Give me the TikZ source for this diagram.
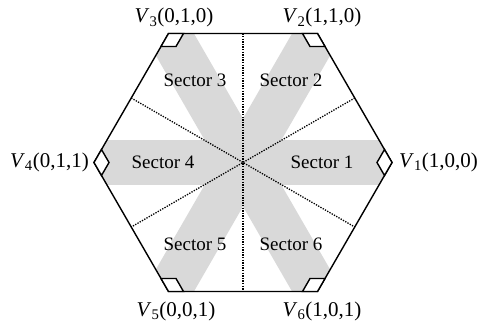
\documentclass[tikz,border=0pt]{standalone}
\usepackage{fontspec}
\setmainfont{Liberation Serif}
\usetikzlibrary{calc}
\begin{document}
\begin{tikzpicture}[x=1pt,y=-1pt,
  hexedge/.style={line width=1.4pt,line join=miter},
  divline/.style={line width=1.3pt,dash pattern=on 1.3pt off 1.3pt},
  band/.style={fill=black!15},
  anglemark/.style={line width=1.4pt,fill=white,line join=miter},
  vlabel/.style={font=\fontsize{21}{24}\selectfont,inner sep=0pt},
  seclabel/.style={font=\fontsize{19}{22}\selectfont,inner sep=0pt}]
\useasboundingbox (0,0) rectangle (479,326);
\coordinate (C) at (243,162.5);
\coordinate (V1) at (392,162.5);
\coordinate (V2) at (317.5,33.5);
\coordinate (V3) at (168.5,33.5);
\coordinate (V4) at (94,162.5);
\coordinate (V5) at (168.5,291.5);
\coordinate (V6) at (317.5,291.5);
% gray bands
\begin{scope}
  \clip (V1) -- (V2) -- (V3) -- (V4) -- (V5) -- (V6) -- cycle;
  \fill[band] (0,140.5) rectangle (479,184.5);
  \fill[band, rotate around={60:(C)}] (0,140.5) rectangle (479,184.5);
  \fill[band, rotate around={-60:(C)}] (0,140.5) rectangle (479,184.5);
\end{scope}
% sector dividers (to edge midpoints)
\coordinate (M12) at ($(V1)!0.5!(V2)$);
\coordinate (M23) at ($(V2)!0.5!(V3)$);
\coordinate (M34) at ($(V3)!0.5!(V4)$);
\coordinate (M45) at ($(V4)!0.5!(V5)$);
\coordinate (M56) at ($(V5)!0.5!(V6)$);
\coordinate (M61) at ($(V6)!0.5!(V1)$);
\draw[divline] (M12) -- (M45);
\draw[divline] (M23) -- (M56);
\draw[divline] (M34) -- (M61);
% hexagon
\draw[hexedge] (V1) -- (V2) -- (V3) -- (V4) -- (V5) -- (V6) -- cycle;
% angle marks
\foreach \i/\p/\n in {1/6/2,2/1/3,3/2/4,4/3/5,5/4/6,6/5/1}{
  \coordinate (A\i) at ($(V\i)!15pt!(V\p)$);
  \coordinate (B\i) at ($(V\i)!15pt!(V\n)$);
  \draw[anglemark] (V\i) -- (A\i) -- ($(A\i)+(B\i)-(V\i)$) -- (B\i) -- cycle;
}
% vertex labels
\node[vlabel,anchor=base] (L3) at (174,23) {\textit{V}\textsubscript{3}(0,1,0)};
\node[vlabel,anchor=base] (L2) at (322,23) {\textit{V}\textsubscript{2}(1,1,0)};
\node[vlabel,anchor=west] (L1) at (399,162.5) {\textit{V}\textsubscript{1}(1,0,0)};
\node[vlabel,anchor=east] (L4) at (89,162.5) {\textit{V}\textsubscript{4}(0,1,1)};
\node[vlabel,anchor=base] (L5) at (176,316) {\textit{V}\textsubscript{5}(0,0,1)};
\node[vlabel,anchor=base] (L6) at (322,316) {\textit{V}\textsubscript{6}(1,0,1)};
% sector labels
\node[seclabel] (S1) at (322,162.5) {Sector 1};
\node[seclabel] (S2) at (291,80) {Sector 2};
\node[seclabel] (S3) at (195,80) {Sector 3};
\node[seclabel] (S4) at (163,162.5) {Sector 4};
\node[seclabel] (S5) at (195,244) {Sector 5};
\node[seclabel] (S6) at (291,244) {Sector 6};
\end{tikzpicture}
\end{document}
